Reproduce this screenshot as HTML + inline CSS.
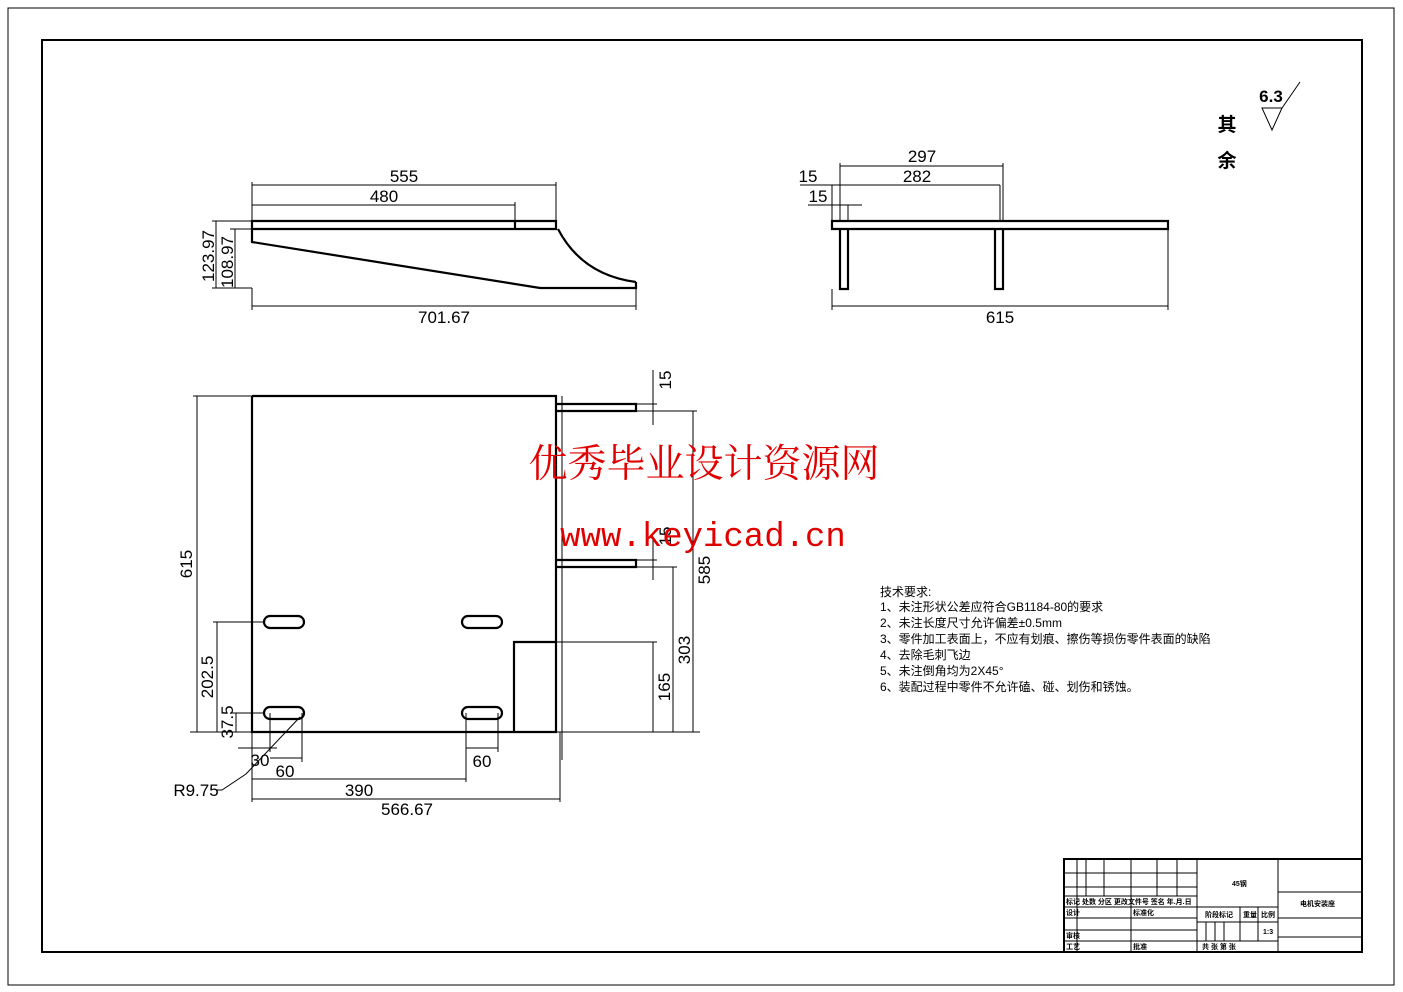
<!DOCTYPE html>
<html><head><meta charset="utf-8"><style>body{margin:0;background:#fff}svg{display:block}</style></head><body>
<svg width="1403" height="992" viewBox="0 0 1403 992" xmlns="http://www.w3.org/2000/svg" font-family="Liberation Sans, Noto Sans CJK SC, sans-serif">
<rect x="8" y="8" width="1386" height="977" fill="none" stroke="#000" stroke-width="1"/>
<rect x="42" y="40" width="1320" height="912" fill="none" stroke="#000" stroke-width="2"/>
<g fill="none" stroke="#000">
<g stroke-width="2.2">
<path d="M252 221H556V229H252Z M515 221V229 M252 229V242 L540 288 H636 V282 M558 229 Q582 275 636 282"/>
</g>
<g stroke-width="1">
<path d="M252 185H556 M252 205H515 M252 306H636 M252 182V221 M556 182V221 M515 202V221 M636 288V310 M252 288V310 M212 221H252 M230 229H252 M212 288H252 M216 221V288 M235 229V288"/>
</g>
<g stroke-width="2.2">
<path d="M832 221H1168V229H832Z M840 229V289H848V229 M995 229V289H1003V229"/>
</g>
<g stroke-width="1">
<path d="M840 166H1003 M840 163V221 M1003 163V221 M800 185H1000 M1000 185V221 M832 185V221 M808 205H862 M848 205V221 M832 306H1168 M832 289V310 M1168 229V310"/>
</g>
<g stroke-width="2.2">
<path d="M252 396H556V642 M252 396V732H556V642H514V732 M556 404H636V411H556 M556 560H636V567H556"/>
<rect x="264" y="616" width="40" height="12" rx="6"/>
<rect x="462" y="616" width="40" height="12" rx="6"/>
<rect x="264" y="707" width="40" height="12" rx="6"/>
<rect x="462" y="707" width="40" height="12" rx="6"/>
</g>
<g stroke-width="1">
<path d="M562 396V760 M562 404V411 M562 560V567 M193 396H252 M197 396V732 M190 732H700 M213 622H264 M217 622V732 M232 713H264 M236 713V732 M636 404H657 M636 411H697 M653 370V425 M636 560H657 M636 567H677 M653 540V580 M693 411V732 M673 567V732 M556 642H657 M653 642V732 M252 732V802 M560 732V802 M252 799H560 M252 779H466 M466 713V782 M498 713V752 M466 748H498 M270 713V752 M302 713V762 M270 758H302 M238 748H277 M300 717L246 774 L222 790H216"/>
</g>
<path d="M1262 108H1282L1272 130Z M1282 108L1300 82" stroke-width="1"/>
<g stroke-width="1">
<rect x="1064" y="859" width="298" height="93" stroke-width="2"/>
<path d="M1197 859V952 M1278 859V952 M1064 873H1197 M1064 887H1197 M1064 896H1197 M1064 907H1197 M1064 918H1197 M1064 930H1197 M1064 941H1197 M1077 859V952 M1086 859V896 M1104 859V896 M1131 859V952 M1157 859V896 M1177 859V896 M1197 907H1278 M1197 922H1278 M1197 941H1278 M1240 907V941 M1258 907V941 M1206 922V941 M1215 922V941 M1224 922V941 M1278 892H1362 M1278 918H1362 M1278 937H1362"/>
</g>
</g>
<g font-size="17" text-anchor="middle" fill="#000">
<text x="404" y="182">555</text><text x="384" y="202">480</text><text x="444" y="323">701.67</text>
<text transform="translate(214,256) rotate(-90)">123.97</text><text transform="translate(233,262) rotate(-90)">108.97</text>
<text x="922" y="162">297</text><text x="917" y="182">282</text><text x="808" y="182">15</text><text x="818" y="202">15</text><text x="1000" y="323">615</text>
<text transform="translate(192,564) rotate(-90)">615</text><text transform="translate(671,380) rotate(-90)">15</text><text transform="translate(671,536) rotate(-90)">15</text>
<text transform="translate(710,570) rotate(-90)">585</text><text transform="translate(690,650) rotate(-90)">303</text><text transform="translate(670,687) rotate(-90)">165</text>
<text transform="translate(213,677) rotate(-90)">202.5</text><text transform="translate(233,722) rotate(-90)">37.5</text>
<text x="260" y="766">30</text><text x="285" y="777">60</text><text x="482" y="767">60</text><text x="359" y="796">390</text><text x="407" y="815">566.67</text>
<text x="196" y="796">R9.75</text>
<text x="1271" y="102" font-weight="bold">6.3</text>
<text x="1227" y="131" font-weight="bold" font-size="19">其</text><text x="1227" y="167" font-weight="bold" font-size="19">余</text>
</g>
<g font-size="12" fill="#000">
<text x="880" y="596">技术要求:</text>
<text x="880" y="611">1、未注形状公差应符合GB1184-80的要求</text>
<text x="880" y="627">2、未注长度尺寸允许偏差±0.5mm</text>
<text x="880" y="643">3、零件加工表面上，不应有划痕、擦伤等损伤零件表面的缺陷</text>
<text x="880" y="659">4、去除毛刺飞边</text>
<text x="880" y="675">5、未注倒角均为2X45°</text>
<text x="880" y="691">6、装配过程中零件不允许磕、碰、划伤和锈蚀。</text>
</g>
<g font-size="7" fill="#000" font-weight="bold">
<text x="1066" y="904">标记 处数 分区 更改文件号 签名 年.月.日</text>
<text x="1066" y="915">设计</text><text x="1133" y="915">标准化</text><text x="1066" y="938">审核</text><text x="1066" y="949">工艺</text><text x="1133" y="949">批准</text>
<text x="1232" y="886">45钢</text><text x="1205" y="917">阶段标记</text><text x="1243" y="917">重量</text><text x="1261" y="917">比例</text><text x="1263" y="934">1:3</text>
<text x="1202" y="949">共    张    第    张</text>
<text x="1300" y="906">电机安装座</text>
</g>
<text x="704" y="477" font-size="39" fill="#e00000" text-anchor="middle" font-family="Liberation Serif, Noto Serif CJK SC, serif">优秀毕业设计资源网</text>
<text x="703" y="546" font-size="34" fill="#e00000" text-anchor="middle" font-family="Liberation Mono, monospace">www.keyicad.cn</text>
</svg>
</body></html>
